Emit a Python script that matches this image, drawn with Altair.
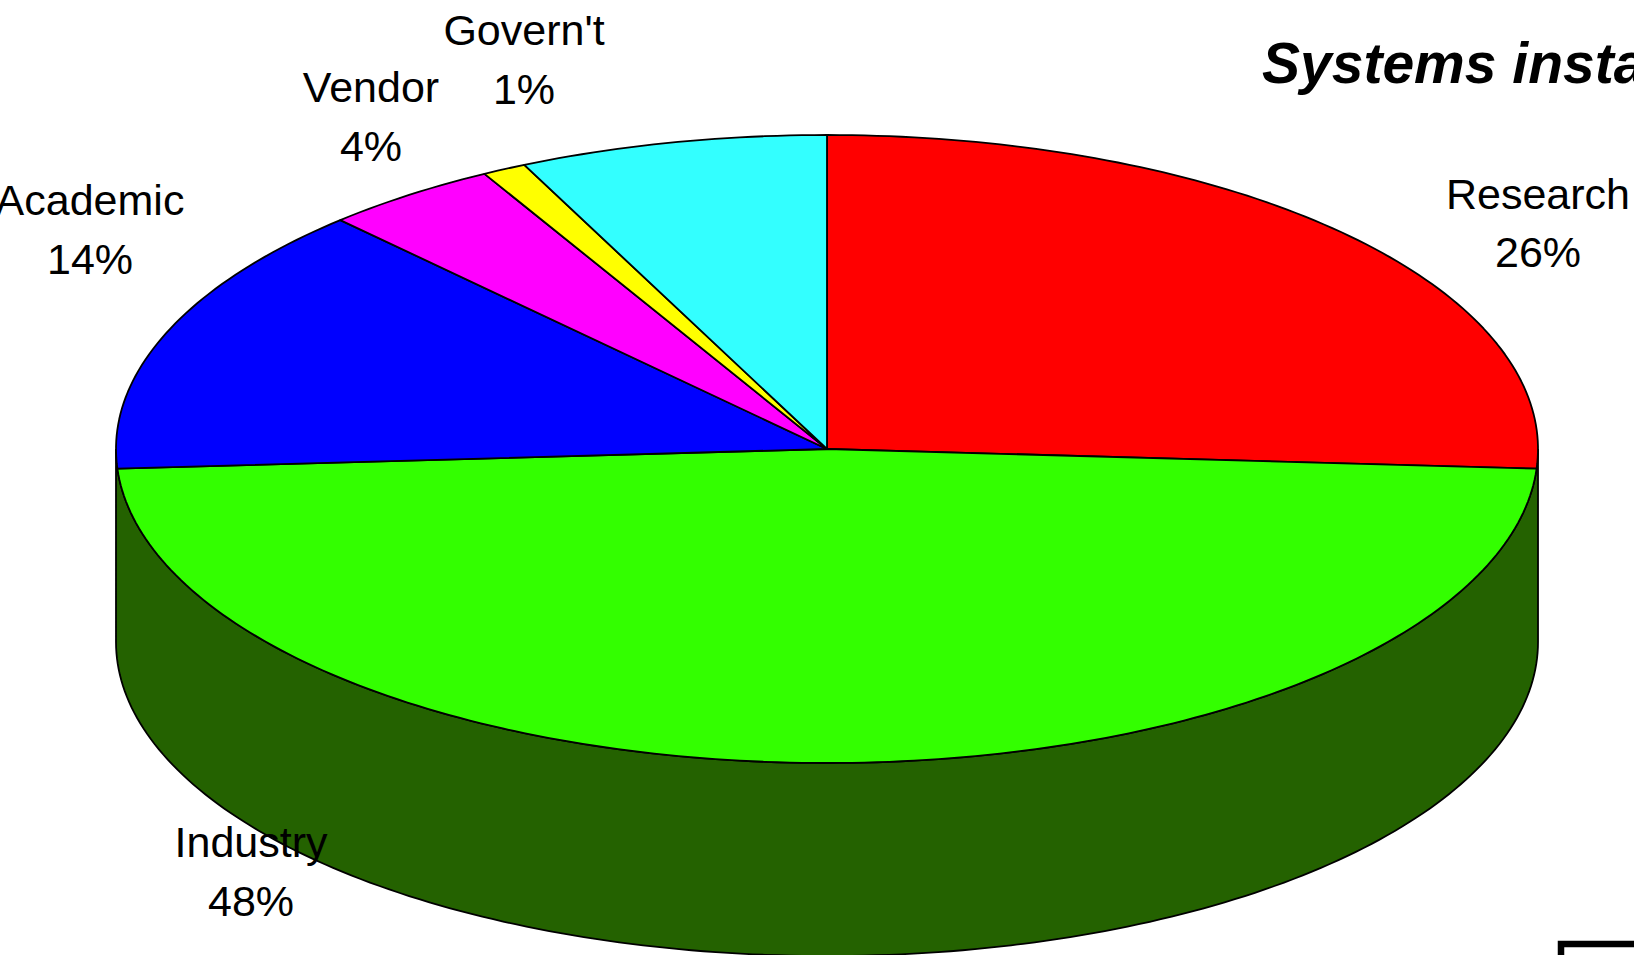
import altair as alt
import numpy as np
import pandas as pd

# Shares of installed systems, clockwise from twelve o'clock.
sectors = ["Research", "Industry", "Academic", "Vendor", "Govern't", "Other"]
shares = [26, 48, 14, 4, 1, 7]
top_colors = ["#ff0000", "#33ff00", "#0000ff", "#ff00ff", "#ffff00", "#33ffff"]
wall_color = "#246200"

# Label text, one entry per line.
label_names = ["Research", "Industry", "Academic", "Vendor", "Govern't"]
label_values = ["26%", "48%", "14%", "4%", "1%"]
title_text = "Systems installed"

W, H = 1634, 955
CX, CY, RX, RY, DEPTH = 827, 449, 711, 314, 193


def rim(angle_deg):
    """Point on the upper rim of the tilted disc for a clockwise angle."""
    a = np.radians(angle_deg)
    return CX + RX * np.sin(a), CY - RY * np.cos(a)


# Upper face: one closed outline per sector, derived from the shares.
rows = []
start = 0.0
for name, share in zip(sectors, shares):
    sweep = share * 3.6
    steps = max(int(sweep), 2)
    rows.append({"sector": name, "i": 0, "x": CX, "y": CY})
    for k, ang in enumerate(np.linspace(start, start + sweep, steps + 1)):
        px, py = rim(ang)
        rows.append({"sector": name, "i": k + 1, "x": px, "y": py})
    rows.append({"sector": name, "i": steps + 2, "x": CX, "y": CY})
    start += sweep
face = pd.DataFrame(rows)

# Front wall: the near half of the rim and the same arc pushed down by the depth.
wall_angles = np.arange(90, 271)
wall_rows = [{"i": k, "x": rim(a)[0], "y": rim(a)[1]} for k, a in enumerate(wall_angles)]
n = len(wall_rows)
wall_rows += [
    {"i": n + k, "x": rim(a)[0], "y": rim(a)[1] + DEPTH}
    for k, a in enumerate(wall_angles[::-1])
]
wall_rows.append(dict(wall_rows[0], i=2 * n))
wall = pd.DataFrame(wall_rows)

x_scale = alt.Scale(domain=[0, W], nice=False, zero=False)
y_scale = alt.Scale(domain=[H, 0], nice=False, zero=False)
X = alt.X("x:Q", scale=x_scale, axis=None)
Y = alt.Y("y:Q", scale=y_scale, axis=None)

wall_layer = (
    alt.Chart(wall)
    .mark_line(fill=wall_color, stroke="black", strokeWidth=1.8, clip=True)
    .encode(x=X, y=Y, order="i:Q")
)

face_layers = [
    alt.Chart(face[face.sector == name])
    .mark_line(fill=color, stroke="black", strokeWidth=1.8, strokeJoin="round", clip=True)
    .encode(x=X, y=Y, order="i:Q")
    for name, color in zip(sectors, top_colors)
]

# Label anchors: centre x and baseline y of the two stacked lines.
label_xy = {
    "Research": (1538, 209, 267),
    "Industry": (251, 857, 916),
    "Academic": (90, 215, 274),
    "Vendor": (371, 102, 161),
    "Govern't": (524, 45, 104),
}
label_rows = []
for name, value in zip(label_names, label_values):
    lx, y1, y2 = label_xy[name]
    label_rows.append({"x": lx, "y": y1, "t": name})
    label_rows.append({"x": lx, "y": y2, "t": value})
labels = pd.DataFrame(label_rows)

label_layer = (
    alt.Chart(labels)
    .mark_text(font="Liberation Sans", fontSize=43, align="center", baseline="alphabetic", color="black")
    .encode(x=X, y=Y, text="t:N")
)

title_layer = (
    alt.Chart(pd.DataFrame({"x": [1262], "y": [83], "t": [title_text]}))
    .mark_text(
        font="Liberation Sans",
        fontSize=57,
        fontWeight="bold",
        fontStyle="italic",
        align="left",
        baseline="alphabetic",
        color="black",
    )
    .encode(x=X, y=Y, text="t:N")
)

# Corner of the framed box that runs off the lower right of the page.
frame_layer = (
    alt.Chart(pd.DataFrame({"x": [1561], "x2": [1700], "y": [944], "y2": [1000]}))
    .mark_rect(fill="white", stroke="black", strokeWidth=6.5, clip=True)
    .encode(x=X, x2="x2:Q", y=Y, y2="y2:Q")
)

chart = (
    alt.layer(wall_layer, *face_layers, label_layer, title_layer, frame_layer)
    .properties(
        width=W,
        height=H,
        padding=0,
        background="white",
        autosize=alt.AutoSizeParams(type="none"),
    )
    .configure_view(stroke=None)
)

chart.save("out.html", embed_options={"renderer": "svg", "actions": False})
